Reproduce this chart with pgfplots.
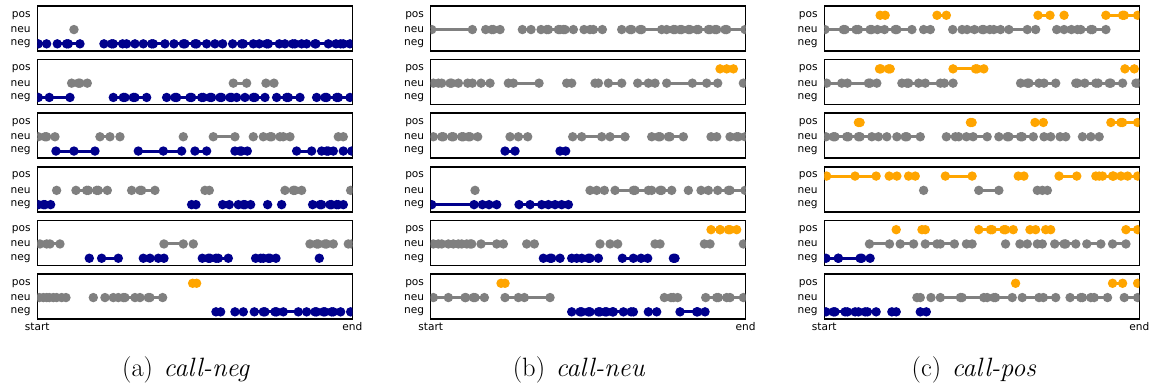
\documentclass[border=0pt]{standalone}
\usepackage{fontspec}
\usepackage{pgfplots}
\pgfplotsset{compat=1.18}
\newfontfamily\dvs{DejaVu Sans}
\definecolor{cneg}{RGB}{0,0,140}
\definecolor{cneu}{RGB}{128,128,128}
\definecolor{cpos}{RGB}{255,165,0}
\pgfplotsset{
  panel/.style={width=315pt,height=45pt,scale only axis,
    ymin=-0.5,ymax=2.65,ytick={0,1,2},yticklabels={neg,neu,pos},
    major tick length=0pt,
    yticklabel style={font=\dvs\fontsize{10.6}{12}\selectfont,inner sep=0pt,xshift=-6.5pt},
    xticklabel style={font=\dvs\fontsize{10.6}{12}\selectfont,inner sep=0pt,yshift=-3.5pt},
    xtick=\empty,
    axis line style={line width=1.5pt,black},
    every axis plot/.append style={line width=3pt},
    unbounded coords=jump, clip marker paths=true},
  cola/.style={xmin=112,xmax=1057},
  colb/.style={xmin=107,xmax=1052},
  colc/.style={xmin=103,xmax=1045},
  last/.style={xtick={\pgfkeysvalueof{/pgfplots/xmin},\pgfkeysvalueof{/pgfplots/xmax}},xticklabels={start,end}},
  sneg/.style={draw=cneg,line width=3pt,mark=*,mark size=3.1pt,mark options={solid,fill=cneg,draw=none}},
  sneu/.style={draw=cneu,line width=3pt,mark=*,mark size=3.1pt,mark options={solid,fill=cneu,draw=none}},
  spos/.style={draw=cpos,line width=3pt,mark=*,mark size=3.1pt,mark options={solid,fill=cpos,draw=none}},
}
\begin{document}
\begin{tikzpicture}
\useasboundingbox (0pt,0pt) rectangle (1157pt,387pt);
% ===== column a =====
\begin{axis}[panel,cola,at={(37.3pt,381pt)},anchor=north west]
\addplot[sneu] coordinates {(222,1)};
\addplot[sneg] coordinates {(115,0)(140,0)(nan,nan)(172,0)(200,0)(nan,nan)(205,0)(240,0)(nan,nan)(312,0)(335,0)(nan,nan)(340,0)(368,0)(nan,nan)(380,0)(405,0)(nan,nan)(430,0)(455,0)(nan,nan)(460,0)(495,0)(nan,nan)(522,0)(550,0)(nan,nan)(555,0)(585,0)(nan,nan)(590,0)(620,0)(nan,nan)(645,0)(668,0)(nan,nan)(698,0)(725,0)(nan,nan)(730,0)(760,0)(nan,nan)(778,0)(800,0)(nan,nan)(805,0)(838,0)(nan,nan)(855,0)(878,0)(nan,nan)(885,0)(905,0)(nan,nan)(920,0)(945,0)(nan,nan)(948,0)(985,0)(nan,nan)(1008,0)(1022,0)(nan,nan)(1030,0)(1050,0)};
\end{axis}
\begin{axis}[panel,cola,at={(37.3pt,327.4pt)},anchor=north west]
\addplot[sneu] coordinates {(215,1)(235,1)(nan,nan)(240,1)(262,1)(nan,nan)(700,1)(740,1)(nan,nan)(798,1)(822,1)};
\addplot[sneg] coordinates {(115,0)(148,0)(210,0)(nan,nan)(340,0)(370,0)(nan,nan)(375,0)(400,0)(nan,nan)(405,0)(440,0)(nan,nan)(500,0)(525,0)(nan,nan)(530,0)(570,0)(nan,nan)(575,0)(605,0)(nan,nan)(610,0)(630,0)(nan,nan)(635,0)(660,0)(nan,nan)(665,0)(690,0)(nan,nan)(695,0)(710,0)(nan,nan)(735,0)(760,0)(nan,nan)(765,0)(795,0)(nan,nan)(830,0)(860,0)(nan,nan)(865,0)(900,0)(nan,nan)(950,0)(975,0)(nan,nan)(980,0)(1010,0)(nan,nan)(1015,0)(1050,0)};
\end{axis}
\begin{axis}[panel,cola,at={(37.3pt,273.8pt)},anchor=north west]
\addplot[sneu] coordinates {(115,1)(135,1)(nan,nan)(140,1)(165,1)(nan,nan)(300,1)(330,1)(nan,nan)(360,1)(nan,nan)(550,1)(nan,nan)(640,1)(705,1)(nan,nan)(760,1)(nan,nan)(790,1)(810,1)(nan,nan)(815,1)(840,1)(nan,nan)(850,1)(870,1)(nan,nan)(1015,1)(1030,1)};
\addplot[sneg] coordinates {(168,0)(222,0)(285,0)(nan,nan)(415,0)(490,0)(545,0)(nan,nan)(585,0)(620,0)(nan,nan)(705,0)(720,0)(nan,nan)(725,0)(742,0)(nan,nan)(890,0)(935,0)(nan,nan)(965,0)(980,0)(nan,nan)(985,0)(1000,0)(nan,nan)(1030,0)(1055,0)};
\end{axis}
\begin{axis}[panel,cola,at={(37.3pt,220.2pt)},anchor=north west]
\addplot[sneu] coordinates {(170,1)(nan,nan)(228,1)(260,1)(nan,nan)(265,1)(290,1)(nan,nan)(295,1)(322,1)(nan,nan)(395,1)(420,1)(nan,nan)(425,1)(465,1)(nan,nan)(615,1)(628,1)(nan,nan)(855,1)(880,1)(nan,nan)(885,1)(nan,nan)(905,1)(nan,nan)(1052,1)};
\addplot[sneg] coordinates {(115,0)(130,0)(nan,nan)(135,0)(152,0)(nan,nan)(575,0)(588,0)(nan,nan)(668,0)(688,0)(nan,nan)(715,0)(730,0)(nan,nan)(735,0)(752,0)(nan,nan)(803,0)(nan,nan)(845,0)(nan,nan)(938,0)(960,0)(nan,nan)(965,0)(990,0)(nan,nan)(995,0)(1010,0)(nan,nan)(1015,0)(1030,0)};
\end{axis}
\begin{axis}[panel,cola,at={(37.3pt,166.6pt)},anchor=north west]
\addplot[sneu] coordinates {(120,1)(140,1)(nan,nan)(150,1)(180,1)(nan,nan)(492,1)(550,1)(nan,nan)(580,1)(nan,nan)(930,1)(950,1)(nan,nan)(955,1)(975,1)(nan,nan)(980,1)(1000,1)(nan,nan)(1045,1)(1055,1)};
\addplot[sneg] coordinates {(268,0)(nan,nan)(305,0)(355,0)(nan,nan)(430,0)(450,0)(nan,nan)(475,0)(492,0)(nan,nan)(607,0)(625,0)(nan,nan)(630,0)(648,0)(nan,nan)(655,0)(685,0)(nan,nan)(767,0)(782,0)(nan,nan)(790,0)(805,0)(nan,nan)(810,0)(828,0)(nan,nan)(958,0)};
\end{axis}
\begin{axis}[panel,cola,last,at={(37.3pt,113pt)},anchor=north west]
\addplot[spos] coordinates {(578,2)(590,2)};
\addplot[sneu] coordinates {(118,1)(130,1)(nan,nan)(140,1)(148,1)(nan,nan)(160,1)(170,1)(nan,nan)(185,1)(198,1)(nan,nan)(280,1)(nan,nan)(315,1)(340,1)(nan,nan)(355,1)(370,1)(nan,nan)(375,1)(405,1)(nan,nan)(420,1)(445,1)(nan,nan)(450,1)(488,1)};
\addplot[sneg] coordinates {(648,0)(662,0)(nan,nan)(705,0)(730,0)(nan,nan)(763,0)(790,0)(nan,nan)(795,0)(825,0)(nan,nan)(830,0)(850,0)(895,0)(nan,nan)(920,0)(945,0)(nan,nan)(950,0)(970,0)(nan,nan)(975,0)(995,0)(nan,nan)(1000,0)(1022,0)(nan,nan)(1052,0)};
\end{axis}
% ===== column b =====
\begin{axis}[panel,colb,at={(430.7pt,381pt)},anchor=north west]
\addplot[sneu] coordinates {(110,1)(232,1)(nan,nan)(272,1)(290,1)(nan,nan)(295,1)(315,1)(nan,nan)(382,1)(408,1)(nan,nan)(438,1)(455,1)(nan,nan)(460,1)(490,1)(nan,nan)(495,1)(505,1)(nan,nan)(510,1)(535,1)(nan,nan)(567,1)(585,1)(nan,nan)(595,1)(622,1)(nan,nan)(680,1)(705,1)(nan,nan)(710,1)(735,1)(nan,nan)(740,1)(800,1)(nan,nan)(815,1)(835,1)(nan,nan)(840,1)(855,1)(nan,nan)(860,1)(880,1)(nan,nan)(885,1)(905,1)(nan,nan)(910,1)(940,1)(nan,nan)(945,1)(960,1)(nan,nan)(965,1)(990,1)(nan,nan)(995,1)(1050,1)};
\end{axis}
\begin{axis}[panel,colb,at={(430.7pt,327.4pt)},anchor=north west]
\addplot[spos] coordinates {(975,2)(995,2)(1015,2)};
\addplot[sneu] coordinates {(115,1)(130,1)(nan,nan)(140,1)(165,1)(nan,nan)(170,1)(190,1)(nan,nan)(218,1)(232,1)(nan,nan)(258,1)(285,1)(nan,nan)(340,1)(355,1)(432,1)(nan,nan)(515,1)(530,1)(nan,nan)(600,1)(610,1)(nan,nan)(640,1)(680,1)(nan,nan)(728,1)(760,1)(nan,nan)(780,1)(nan,nan)(815,1)(892,1)(935,1)(968,1)(nan,nan)(1045,1)};
\end{axis}
\begin{axis}[panel,colb,at={(430.7pt,273.8pt)},anchor=north west]
\addplot[sneu] coordinates {(115,1)(140,1)(nan,nan)(145,1)(170,1)(nan,nan)(175,1)(200,1)(nan,nan)(205,1)(220,1)(nan,nan)(225,1)(248,1)(nan,nan)(345,1)(370,1)(398,1)(nan,nan)(533,1)(560,1)(620,1)(nan,nan)(645,1)(690,1)(nan,nan)(770,1)(790,1)(nan,nan)(795,1)(820,1)(nan,nan)(825,1)(865,1)(nan,nan)(948,1)(965,1)(nan,nan)(1005,1)(1025,1)(nan,nan)(1030,1)(1050,1)};
\addplot[sneg] coordinates {(330,0)(360,0)(nan,nan)(495,0)(512,0)};
\end{axis}
\begin{axis}[panel,colb,at={(430.7pt,220.2pt)},anchor=north west]
\addplot[sneu] coordinates {(240,1)(nan,nan)(585,1)(605,1)(nan,nan)(628,1)(nan,nan)(660,1)(715,1)(nan,nan)(720,1)(760,1)(nan,nan)(770,1)(795,1)(nan,nan)(800,1)(830,1)(nan,nan)(880,1)(nan,nan)(918,1)(940,1)(nan,nan)(968,1)(1000,1)(nan,nan)(1005,1)(1050,1)};
\addplot[sneg] coordinates {(110,0)(237,0)(262,0)(nan,nan)(282,0)(305,0)(nan,nan)(372,0)(405,0)(440,0)(460,0)(nan,nan)(480,0)(500,0)(520,0)};
\end{axis}
\begin{axis}[panel,colb,at={(430.7pt,166.6pt)},anchor=north west]
\addplot[spos] coordinates {(948,2)(975,2)(nan,nan)(975,2)(1000,2)(nan,nan)(1005,2)(1025,2)};
\addplot[sneu] coordinates {(115,1)(130,1)(nan,nan)(140,1)(160,1)(nan,nan)(175,1)(190,1)(nan,nan)(200,1)(215,1)(nan,nan)(225,1)(230,1)(nan,nan)(258,1)(305,1)(325,1)(nan,nan)(395,1)(418,1)(nan,nan)(615,1)(nan,nan)(645,1)(668,1)(nan,nan)(780,1)(795,1)(nan,nan)(928,1)(945,1)(nan,nan)(1045,1)};
\addplot[sneg] coordinates {(445,0)(465,0)(nan,nan)(470,0)(495,0)(nan,nan)(530,0)(545,0)(nan,nan)(560,0)(580,0)(nan,nan)(585,0)(610,0)(nan,nan)(682,0)(715,0)(nan,nan)(738,0)(758,0)(nan,nan)(835,0)(840,0)};
\end{axis}
\begin{axis}[panel,colb,last,at={(430.7pt,113pt)},anchor=north west]
\addplot[spos] coordinates {(318,2)(330,2)};
\addplot[sneu] coordinates {(115,1)(160,1)(210,1)(nan,nan)(212,1)(235,1)(nan,nan)(240,1)(268,1)(nan,nan)(330,1)(370,1)(nan,nan)(388,1)(465,1)(nan,nan)(808,1)(828,1)(nan,nan)(835,1)(848,1)(nan,nan)(932,1)(965,1)(nan,nan)(970,1)(995,1)(nan,nan)(1005,1)(1045,1)};
\addplot[sneg] coordinates {(530,0)(555,0)(nan,nan)(560,0)(580,0)(nan,nan)(585,0)(610,0)(nan,nan)(615,0)(630,0)(nan,nan)(635,0)(652,0)(nan,nan)(655,0)(685,0)(nan,nan)(708,0)(715,0)(nan,nan)(760,0)(785,0)(nan,nan)(855,0)(905,0)(nan,nan)(908,0)(930,0)};
\end{axis}
% ===== column c =====
\begin{axis}[panel,colc,at={(824.3pt,381pt)},anchor=north west]
\addplot[spos] coordinates {(270,2)(285,2)(nan,nan)(440,2)(468,2)(nan,nan)(742,2)(778,2)(nan,nan)(820,2)(nan,nan)(945,2)(995,2)(nan,nan)(1000,2)(1040,2)};
\addplot[sneu] coordinates {(105,1)(160,1)(nan,nan)(165,1)(198,1)(nan,nan)(205,1)(240,1)(nan,nan)(245,1)(262,1)(nan,nan)(283,1)(315,1)(nan,nan)(320,1)(365,1)(nan,nan)(400,1)(420,1)(nan,nan)(487,1)(nan,nan)(515,1)(530,1)(nan,nan)(552,1)(575,1)(nan,nan)(580,1)(598,1)(nan,nan)(610,1)(630,1)(nan,nan)(655,1)(710,1)(nan,nan)(735,1)(nan,nan)(798,1)(820,1)(nan,nan)(842,1)(860,1)(nan,nan)(870,1)(900,1)(nan,nan)(905,1)(945,1)};
\end{axis}
\begin{axis}[panel,colc,at={(824.3pt,327.4pt)},anchor=north west]
\addplot[spos] coordinates {(268,2)(272,2)(nan,nan)(295,2)(300,2)(nan,nan)(488,2)(555,2)(nan,nan)(560,2)(580,2)(nan,nan)(1002,2)(1030,2)};
\addplot[sneu] coordinates {(110,1)(155,1)(nan,nan)(172,1)(235,1)(nan,nan)(240,1)(260,1)(nan,nan)(335,1)(350,1)(nan,nan)(355,1)(385,1)(nan,nan)(405,1)(450,1)(nan,nan)(462,1)(488,1)(nan,nan)(690,1)(710,1)(nan,nan)(715,1)(745,1)(nan,nan)(760,1)(795,1)(nan,nan)(855,1)(860,1)(nan,nan)(882,1)(915,1)(nan,nan)(922,1)(955,1)(nan,nan)(960,1)(995,1)(nan,nan)(1035,1)(1042,1)};
\end{axis}
\begin{axis}[panel,colc,at={(824.3pt,273.8pt)},anchor=north west]
\addplot[spos] coordinates {(205,2)(210,2)(nan,nan)(540,2)(545,2)(nan,nan)(733,2)(758,2)(nan,nan)(960,2)(990,2)(nan,nan)(995,2)(1040,2)};
\addplot[sneu] coordinates {(108,1)(130,1)(nan,nan)(135,1)(170,1)(nan,nan)(175,1)(205,1)(nan,nan)(210,1)(245,1)(nan,nan)(265,1)(290,1)(nan,nan)(320,1)(345,1)(nan,nan)(350,1)(390,1)(nan,nan)(468,1)(495,1)(nan,nan)(505,1)(528,1)(nan,nan)(548,1)(590,1)(nan,nan)(625,1)(650,1)(nan,nan)(655,1)(690,1)(nan,nan)(695,1)(728,1)(nan,nan)(760,1)(780,1)(nan,nan)(808,1)(825,1)(nan,nan)(875,1)(900,1)(925,1)};
\end{axis}
\begin{axis}[panel,colc,at={(824.3pt,220.2pt)},anchor=north west]
\addplot[spos] coordinates {(110,2)(195,2)(258,2)(nan,nan)(297,2)(320,2)(nan,nan)(355,2)(375,2)(nan,nan)(465,2)(545,2)(nan,nan)(683,2)(700,2)(nan,nan)(805,2)(858,2)(nan,nan)(915,2)(925,2)(nan,nan)(935,2)(965,2)(nan,nan)(968,2)(990,2)(nan,nan)(1010,2)(1040,2)};
\addplot[sneu] coordinates {(400,1)(nan,nan)(565,1)(625,1)(nan,nan)(740,1)(755,1)(770,1)};
\end{axis}
\begin{axis}[panel,colc,at={(824.3pt,166.6pt)},anchor=north west]
\addplot[spos] coordinates {(318,2)(nan,nan)(395,2)(405,2)(nan,nan)(565,2)(600,2)(nan,nan)(605,2)(640,2)(nan,nan)(645,2)(668,2)(nan,nan)(718,2)(735,2)(nan,nan)(765,2)(780,2)(nan,nan)(1005,2)(1040,2)};
\addplot[sneu] coordinates {(238,1)(298,1)(nan,nan)(330,1)(370,1)(nan,nan)(405,1)(440,1)(nan,nan)(450,1)(492,1)(nan,nan)(528,1)(545,1)(nan,nan)(645,1)(nan,nan)(688,1)(710,1)(nan,nan)(740,1)(755,1)(nan,nan)(792,1)(820,1)(nan,nan)(825,1)(855,1)(nan,nan)(888,1)(930,1)(nan,nan)(965,1)(1005,1)};
\addplot[sneg] coordinates {(108,0)(145,0)(nan,nan)(145,0)(210,0)(nan,nan)(215,0)(240,0)};
\end{axis}
\begin{axis}[panel,colc,last,at={(824.3pt,113pt)},anchor=north west]
\addplot[spos] coordinates {(675,2)(nan,nan)(965,2)(995,2)(nan,nan)(1040,2)};
\addplot[sneu] coordinates {(380,1)(390,1)(nan,nan)(422,1)(nan,nan)(450,1)(510,1)(nan,nan)(515,1)(580,1)(nan,nan)(590,1)(610,1)(nan,nan)(615,1)(665,1)(nan,nan)(695,1)(745,1)(nan,nan)(758,1)(795,1)(nan,nan)(838,1)(870,1)(nan,nan)(875,1)(900,1)(nan,nan)(910,1)(950,1)(nan,nan)(1000,1)(1040,1)};
\addplot[sneg] coordinates {(108,0)(130,0)(nan,nan)(135,0)(165,0)(nan,nan)(172,0)(195,0)(nan,nan)(205,0)(225,0)(nan,nan)(232,0)(258,0)(nan,nan)(305,0)(318,0)(nan,nan)(390,0)(408,0)};
\end{axis}
% captions
\node[font=\fontsize{26.5}{31}\selectfont,anchor=base] at (186pt,10pt) {(a)\hspace{0.4em}\textit{call-neg}};
\node[font=\fontsize{26.5}{31}\selectfont,anchor=base] at (579pt,10pt) {(b)\hspace{0.4em}\textit{call-neu}};
\node[font=\fontsize{26.5}{31}\selectfont,anchor=base] at (974pt,10pt) {(c)\hspace{0.4em}\textit{call-pos}};
\end{tikzpicture}
\end{document}
